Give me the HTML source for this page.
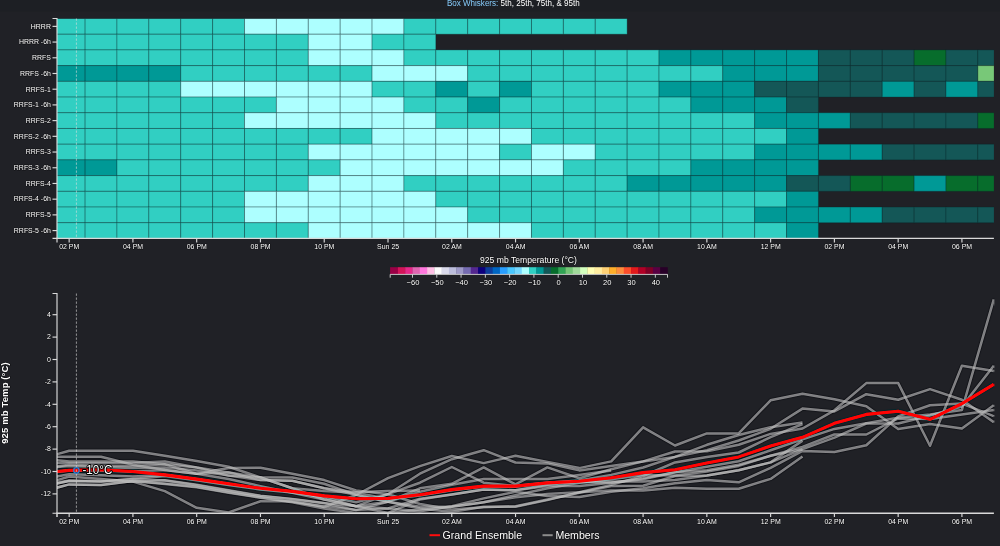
<!DOCTYPE html>
<html lang="en"><head><meta charset="utf-8"><title>925 mb Temperature ensemble</title>
<style>
html,body{margin:0;padding:0;background:#202126;}
body{width:1000px;height:546px;overflow:hidden;position:relative;font-family:"Liberation Sans",Arial,sans-serif;}
svg{position:absolute;left:0;top:0;display:block}
text{font-family:"Liberation Sans",Arial,sans-serif;fill:#fff;}
.tk{font-size:7.05px;paint-order:stroke;stroke:#000;stroke-width:1px;stroke-opacity:.55;stroke-linejoin:round}
.lg{font-size:10.6px;paint-order:stroke;stroke:#000;stroke-width:1.2px;stroke-opacity:.5;stroke-linejoin:round}
.cbt{font-size:7.6px;paint-order:stroke;stroke:#000;stroke-width:1px;stroke-opacity:.5;stroke-linejoin:round}
.m{fill:none;stroke:#b8b8b8;stroke-opacity:.58;stroke-width:2.5;stroke-linejoin:round;stroke-linecap:butt}
</style></head><body>
<svg width="1000" height="546" viewBox="0 0 1000 546">
<defs><clipPath id="ch"><rect x="57.0" y="18.5" width="936.9" height="219.9"/></clipPath>
<clipPath id="cl"><rect x="57.0" y="290" width="937.4" height="223.3"/></clipPath>
<filter id="sh" filterUnits="userSpaceOnUse" x="57" y="289" width="937.5" height="224.3" color-interpolation-filters="sRGB"><feConvolveMatrix order="5" kernelMatrix="0 0 -.012 0 0  0 -.03 -.06 -.03 0  -.012 -.06 1.408 -.06 -.012  0 -.03 -.06 -.03 0  0 0 -.012 0 0" divisor="1" edgeMode="duplicate" preserveAlpha="true"/></filter></defs>
<rect x="0" y="0" width="1000" height="11.3" fill="#1d1f24"/>
<text transform="translate(513.3 5.75) scale(.895 1)" text-anchor="middle" style="font-size:9px"><tspan fill="#86cbfb">Box Whiskers:</tspan> 5th, 25th, 75th, &amp; 95th</text>
<g clip-path="url(#ch)" stroke="#0a2226" stroke-opacity=".31" stroke-width="1">
<rect x="53.21" y="18.50" width="31.89" height="15.71" fill="#31cfc2"/>
<rect x="85.09" y="18.50" width="31.89" height="15.71" fill="#31cfc2"/>
<rect x="116.98" y="18.50" width="31.89" height="15.71" fill="#31cfc2"/>
<rect x="148.86" y="18.50" width="31.89" height="15.71" fill="#31cfc2"/>
<rect x="180.75" y="18.50" width="31.89" height="15.71" fill="#31cfc2"/>
<rect x="212.63" y="18.50" width="31.89" height="15.71" fill="#31cfc2"/>
<rect x="244.52" y="18.50" width="31.89" height="15.71" fill="#adffff"/>
<rect x="276.40" y="18.50" width="31.89" height="15.71" fill="#adffff"/>
<rect x="308.29" y="18.50" width="31.89" height="15.71" fill="#adffff"/>
<rect x="340.17" y="18.50" width="31.89" height="15.71" fill="#adffff"/>
<rect x="372.06" y="18.50" width="31.89" height="15.71" fill="#adffff"/>
<rect x="403.94" y="18.50" width="31.89" height="15.71" fill="#31cfc2"/>
<rect x="435.83" y="18.50" width="31.89" height="15.71" fill="#31cfc2"/>
<rect x="467.71" y="18.50" width="31.89" height="15.71" fill="#31cfc2"/>
<rect x="499.60" y="18.50" width="31.89" height="15.71" fill="#31cfc2"/>
<rect x="531.48" y="18.50" width="31.89" height="15.71" fill="#31cfc2"/>
<rect x="563.37" y="18.50" width="31.89" height="15.71" fill="#31cfc2"/>
<rect x="595.25" y="18.50" width="31.89" height="15.71" fill="#31cfc2"/>
<rect x="53.21" y="34.21" width="31.89" height="15.71" fill="#31cfc2"/>
<rect x="85.09" y="34.21" width="31.89" height="15.71" fill="#31cfc2"/>
<rect x="116.98" y="34.21" width="31.89" height="15.71" fill="#31cfc2"/>
<rect x="148.86" y="34.21" width="31.89" height="15.71" fill="#31cfc2"/>
<rect x="180.75" y="34.21" width="31.89" height="15.71" fill="#31cfc2"/>
<rect x="212.63" y="34.21" width="31.89" height="15.71" fill="#31cfc2"/>
<rect x="244.52" y="34.21" width="31.89" height="15.71" fill="#31cfc2"/>
<rect x="276.40" y="34.21" width="31.89" height="15.71" fill="#31cfc2"/>
<rect x="308.29" y="34.21" width="31.89" height="15.71" fill="#adffff"/>
<rect x="340.17" y="34.21" width="31.89" height="15.71" fill="#adffff"/>
<rect x="372.06" y="34.21" width="31.89" height="15.71" fill="#31cfc2"/>
<rect x="403.94" y="34.21" width="31.89" height="15.71" fill="#31cfc2"/>
<rect x="53.21" y="49.92" width="31.89" height="15.71" fill="#31cfc2"/>
<rect x="85.09" y="49.92" width="31.89" height="15.71" fill="#31cfc2"/>
<rect x="116.98" y="49.92" width="31.89" height="15.71" fill="#31cfc2"/>
<rect x="148.86" y="49.92" width="31.89" height="15.71" fill="#31cfc2"/>
<rect x="180.75" y="49.92" width="31.89" height="15.71" fill="#31cfc2"/>
<rect x="212.63" y="49.92" width="31.89" height="15.71" fill="#31cfc2"/>
<rect x="244.52" y="49.92" width="31.89" height="15.71" fill="#31cfc2"/>
<rect x="276.40" y="49.92" width="31.89" height="15.71" fill="#31cfc2"/>
<rect x="308.29" y="49.92" width="31.89" height="15.71" fill="#adffff"/>
<rect x="340.17" y="49.92" width="31.89" height="15.71" fill="#adffff"/>
<rect x="372.06" y="49.92" width="31.89" height="15.71" fill="#adffff"/>
<rect x="403.94" y="49.92" width="31.89" height="15.71" fill="#31cfc2"/>
<rect x="435.83" y="49.92" width="31.89" height="15.71" fill="#31cfc2"/>
<rect x="467.71" y="49.92" width="31.89" height="15.71" fill="#31cfc2"/>
<rect x="499.60" y="49.92" width="31.89" height="15.71" fill="#31cfc2"/>
<rect x="531.48" y="49.92" width="31.89" height="15.71" fill="#31cfc2"/>
<rect x="563.37" y="49.92" width="31.89" height="15.71" fill="#31cfc2"/>
<rect x="595.25" y="49.92" width="31.89" height="15.71" fill="#31cfc2"/>
<rect x="627.14" y="49.92" width="31.89" height="15.71" fill="#31cfc2"/>
<rect x="659.02" y="49.92" width="31.89" height="15.71" fill="#009996"/>
<rect x="690.91" y="49.92" width="31.89" height="15.71" fill="#009996"/>
<rect x="722.79" y="49.92" width="31.89" height="15.71" fill="#009996"/>
<rect x="754.68" y="49.92" width="31.89" height="15.71" fill="#009996"/>
<rect x="786.56" y="49.92" width="31.89" height="15.71" fill="#009996"/>
<rect x="818.45" y="49.92" width="31.89" height="15.71" fill="#145757"/>
<rect x="850.33" y="49.92" width="31.89" height="15.71" fill="#145757"/>
<rect x="882.22" y="49.92" width="31.89" height="15.71" fill="#145757"/>
<rect x="914.10" y="49.92" width="31.89" height="15.71" fill="#076d2c"/>
<rect x="945.99" y="49.92" width="31.89" height="15.71" fill="#145757"/>
<rect x="977.87" y="49.92" width="31.89" height="15.71" fill="#145757"/>
<rect x="53.21" y="65.63" width="31.89" height="15.71" fill="#009996"/>
<rect x="85.09" y="65.63" width="31.89" height="15.71" fill="#009996"/>
<rect x="116.98" y="65.63" width="31.89" height="15.71" fill="#009996"/>
<rect x="148.86" y="65.63" width="31.89" height="15.71" fill="#009996"/>
<rect x="180.75" y="65.63" width="31.89" height="15.71" fill="#31cfc2"/>
<rect x="212.63" y="65.63" width="31.89" height="15.71" fill="#31cfc2"/>
<rect x="244.52" y="65.63" width="31.89" height="15.71" fill="#31cfc2"/>
<rect x="276.40" y="65.63" width="31.89" height="15.71" fill="#31cfc2"/>
<rect x="308.29" y="65.63" width="31.89" height="15.71" fill="#31cfc2"/>
<rect x="340.17" y="65.63" width="31.89" height="15.71" fill="#31cfc2"/>
<rect x="372.06" y="65.63" width="31.89" height="15.71" fill="#adffff"/>
<rect x="403.94" y="65.63" width="31.89" height="15.71" fill="#adffff"/>
<rect x="435.83" y="65.63" width="31.89" height="15.71" fill="#adffff"/>
<rect x="467.71" y="65.63" width="31.89" height="15.71" fill="#31cfc2"/>
<rect x="499.60" y="65.63" width="31.89" height="15.71" fill="#31cfc2"/>
<rect x="531.48" y="65.63" width="31.89" height="15.71" fill="#31cfc2"/>
<rect x="563.37" y="65.63" width="31.89" height="15.71" fill="#31cfc2"/>
<rect x="595.25" y="65.63" width="31.89" height="15.71" fill="#31cfc2"/>
<rect x="627.14" y="65.63" width="31.89" height="15.71" fill="#31cfc2"/>
<rect x="659.02" y="65.63" width="31.89" height="15.71" fill="#31cfc2"/>
<rect x="690.91" y="65.63" width="31.89" height="15.71" fill="#31cfc2"/>
<rect x="722.79" y="65.63" width="31.89" height="15.71" fill="#009996"/>
<rect x="754.68" y="65.63" width="31.89" height="15.71" fill="#009996"/>
<rect x="786.56" y="65.63" width="31.89" height="15.71" fill="#009996"/>
<rect x="818.45" y="65.63" width="31.89" height="15.71" fill="#145757"/>
<rect x="850.33" y="65.63" width="31.89" height="15.71" fill="#145757"/>
<rect x="882.22" y="65.63" width="31.89" height="15.71" fill="#145757"/>
<rect x="914.10" y="65.63" width="31.89" height="15.71" fill="#145757"/>
<rect x="945.99" y="65.63" width="31.89" height="15.71" fill="#145757"/>
<rect x="977.87" y="65.63" width="31.89" height="15.71" fill="#78c878"/>
<rect x="53.21" y="81.34" width="31.89" height="15.71" fill="#31cfc2"/>
<rect x="85.09" y="81.34" width="31.89" height="15.71" fill="#31cfc2"/>
<rect x="116.98" y="81.34" width="31.89" height="15.71" fill="#31cfc2"/>
<rect x="148.86" y="81.34" width="31.89" height="15.71" fill="#31cfc2"/>
<rect x="180.75" y="81.34" width="31.89" height="15.71" fill="#adffff"/>
<rect x="212.63" y="81.34" width="31.89" height="15.71" fill="#adffff"/>
<rect x="244.52" y="81.34" width="31.89" height="15.71" fill="#adffff"/>
<rect x="276.40" y="81.34" width="31.89" height="15.71" fill="#adffff"/>
<rect x="308.29" y="81.34" width="31.89" height="15.71" fill="#adffff"/>
<rect x="340.17" y="81.34" width="31.89" height="15.71" fill="#adffff"/>
<rect x="372.06" y="81.34" width="31.89" height="15.71" fill="#31cfc2"/>
<rect x="403.94" y="81.34" width="31.89" height="15.71" fill="#31cfc2"/>
<rect x="435.83" y="81.34" width="31.89" height="15.71" fill="#009996"/>
<rect x="467.71" y="81.34" width="31.89" height="15.71" fill="#31cfc2"/>
<rect x="499.60" y="81.34" width="31.89" height="15.71" fill="#009996"/>
<rect x="531.48" y="81.34" width="31.89" height="15.71" fill="#31cfc2"/>
<rect x="563.37" y="81.34" width="31.89" height="15.71" fill="#31cfc2"/>
<rect x="595.25" y="81.34" width="31.89" height="15.71" fill="#31cfc2"/>
<rect x="627.14" y="81.34" width="31.89" height="15.71" fill="#31cfc2"/>
<rect x="659.02" y="81.34" width="31.89" height="15.71" fill="#009996"/>
<rect x="690.91" y="81.34" width="31.89" height="15.71" fill="#009996"/>
<rect x="722.79" y="81.34" width="31.89" height="15.71" fill="#009996"/>
<rect x="754.68" y="81.34" width="31.89" height="15.71" fill="#145757"/>
<rect x="786.56" y="81.34" width="31.89" height="15.71" fill="#145757"/>
<rect x="818.45" y="81.34" width="31.89" height="15.71" fill="#145757"/>
<rect x="850.33" y="81.34" width="31.89" height="15.71" fill="#145757"/>
<rect x="882.22" y="81.34" width="31.89" height="15.71" fill="#009996"/>
<rect x="914.10" y="81.34" width="31.89" height="15.71" fill="#145757"/>
<rect x="945.99" y="81.34" width="31.89" height="15.71" fill="#009996"/>
<rect x="977.87" y="81.34" width="31.89" height="15.71" fill="#145757"/>
<rect x="53.21" y="97.05" width="31.89" height="15.71" fill="#31cfc2"/>
<rect x="85.09" y="97.05" width="31.89" height="15.71" fill="#31cfc2"/>
<rect x="116.98" y="97.05" width="31.89" height="15.71" fill="#31cfc2"/>
<rect x="148.86" y="97.05" width="31.89" height="15.71" fill="#31cfc2"/>
<rect x="180.75" y="97.05" width="31.89" height="15.71" fill="#31cfc2"/>
<rect x="212.63" y="97.05" width="31.89" height="15.71" fill="#31cfc2"/>
<rect x="244.52" y="97.05" width="31.89" height="15.71" fill="#31cfc2"/>
<rect x="276.40" y="97.05" width="31.89" height="15.71" fill="#adffff"/>
<rect x="308.29" y="97.05" width="31.89" height="15.71" fill="#adffff"/>
<rect x="340.17" y="97.05" width="31.89" height="15.71" fill="#adffff"/>
<rect x="372.06" y="97.05" width="31.89" height="15.71" fill="#adffff"/>
<rect x="403.94" y="97.05" width="31.89" height="15.71" fill="#31cfc2"/>
<rect x="435.83" y="97.05" width="31.89" height="15.71" fill="#31cfc2"/>
<rect x="467.71" y="97.05" width="31.89" height="15.71" fill="#009996"/>
<rect x="499.60" y="97.05" width="31.89" height="15.71" fill="#31cfc2"/>
<rect x="531.48" y="97.05" width="31.89" height="15.71" fill="#31cfc2"/>
<rect x="563.37" y="97.05" width="31.89" height="15.71" fill="#31cfc2"/>
<rect x="595.25" y="97.05" width="31.89" height="15.71" fill="#31cfc2"/>
<rect x="627.14" y="97.05" width="31.89" height="15.71" fill="#31cfc2"/>
<rect x="659.02" y="97.05" width="31.89" height="15.71" fill="#31cfc2"/>
<rect x="690.91" y="97.05" width="31.89" height="15.71" fill="#009996"/>
<rect x="722.79" y="97.05" width="31.89" height="15.71" fill="#009996"/>
<rect x="754.68" y="97.05" width="31.89" height="15.71" fill="#009996"/>
<rect x="786.56" y="97.05" width="31.89" height="15.71" fill="#145757"/>
<rect x="53.21" y="112.76" width="31.89" height="15.71" fill="#31cfc2"/>
<rect x="85.09" y="112.76" width="31.89" height="15.71" fill="#31cfc2"/>
<rect x="116.98" y="112.76" width="31.89" height="15.71" fill="#31cfc2"/>
<rect x="148.86" y="112.76" width="31.89" height="15.71" fill="#31cfc2"/>
<rect x="180.75" y="112.76" width="31.89" height="15.71" fill="#31cfc2"/>
<rect x="212.63" y="112.76" width="31.89" height="15.71" fill="#31cfc2"/>
<rect x="244.52" y="112.76" width="31.89" height="15.71" fill="#adffff"/>
<rect x="276.40" y="112.76" width="31.89" height="15.71" fill="#adffff"/>
<rect x="308.29" y="112.76" width="31.89" height="15.71" fill="#adffff"/>
<rect x="340.17" y="112.76" width="31.89" height="15.71" fill="#adffff"/>
<rect x="372.06" y="112.76" width="31.89" height="15.71" fill="#adffff"/>
<rect x="403.94" y="112.76" width="31.89" height="15.71" fill="#adffff"/>
<rect x="435.83" y="112.76" width="31.89" height="15.71" fill="#31cfc2"/>
<rect x="467.71" y="112.76" width="31.89" height="15.71" fill="#31cfc2"/>
<rect x="499.60" y="112.76" width="31.89" height="15.71" fill="#31cfc2"/>
<rect x="531.48" y="112.76" width="31.89" height="15.71" fill="#31cfc2"/>
<rect x="563.37" y="112.76" width="31.89" height="15.71" fill="#31cfc2"/>
<rect x="595.25" y="112.76" width="31.89" height="15.71" fill="#31cfc2"/>
<rect x="627.14" y="112.76" width="31.89" height="15.71" fill="#31cfc2"/>
<rect x="659.02" y="112.76" width="31.89" height="15.71" fill="#31cfc2"/>
<rect x="690.91" y="112.76" width="31.89" height="15.71" fill="#31cfc2"/>
<rect x="722.79" y="112.76" width="31.89" height="15.71" fill="#31cfc2"/>
<rect x="754.68" y="112.76" width="31.89" height="15.71" fill="#009996"/>
<rect x="786.56" y="112.76" width="31.89" height="15.71" fill="#009996"/>
<rect x="818.45" y="112.76" width="31.89" height="15.71" fill="#009996"/>
<rect x="850.33" y="112.76" width="31.89" height="15.71" fill="#145757"/>
<rect x="882.22" y="112.76" width="31.89" height="15.71" fill="#145757"/>
<rect x="914.10" y="112.76" width="31.89" height="15.71" fill="#145757"/>
<rect x="945.99" y="112.76" width="31.89" height="15.71" fill="#145757"/>
<rect x="977.87" y="112.76" width="31.89" height="15.71" fill="#076d2c"/>
<rect x="53.21" y="128.47" width="31.89" height="15.71" fill="#31cfc2"/>
<rect x="85.09" y="128.47" width="31.89" height="15.71" fill="#31cfc2"/>
<rect x="116.98" y="128.47" width="31.89" height="15.71" fill="#31cfc2"/>
<rect x="148.86" y="128.47" width="31.89" height="15.71" fill="#31cfc2"/>
<rect x="180.75" y="128.47" width="31.89" height="15.71" fill="#31cfc2"/>
<rect x="212.63" y="128.47" width="31.89" height="15.71" fill="#31cfc2"/>
<rect x="244.52" y="128.47" width="31.89" height="15.71" fill="#31cfc2"/>
<rect x="276.40" y="128.47" width="31.89" height="15.71" fill="#31cfc2"/>
<rect x="308.29" y="128.47" width="31.89" height="15.71" fill="#31cfc2"/>
<rect x="340.17" y="128.47" width="31.89" height="15.71" fill="#31cfc2"/>
<rect x="372.06" y="128.47" width="31.89" height="15.71" fill="#adffff"/>
<rect x="403.94" y="128.47" width="31.89" height="15.71" fill="#adffff"/>
<rect x="435.83" y="128.47" width="31.89" height="15.71" fill="#adffff"/>
<rect x="467.71" y="128.47" width="31.89" height="15.71" fill="#adffff"/>
<rect x="499.60" y="128.47" width="31.89" height="15.71" fill="#adffff"/>
<rect x="531.48" y="128.47" width="31.89" height="15.71" fill="#31cfc2"/>
<rect x="563.37" y="128.47" width="31.89" height="15.71" fill="#31cfc2"/>
<rect x="595.25" y="128.47" width="31.89" height="15.71" fill="#31cfc2"/>
<rect x="627.14" y="128.47" width="31.89" height="15.71" fill="#31cfc2"/>
<rect x="659.02" y="128.47" width="31.89" height="15.71" fill="#31cfc2"/>
<rect x="690.91" y="128.47" width="31.89" height="15.71" fill="#31cfc2"/>
<rect x="722.79" y="128.47" width="31.89" height="15.71" fill="#31cfc2"/>
<rect x="754.68" y="128.47" width="31.89" height="15.71" fill="#31cfc2"/>
<rect x="786.56" y="128.47" width="31.89" height="15.71" fill="#009996"/>
<rect x="53.21" y="144.18" width="31.89" height="15.71" fill="#31cfc2"/>
<rect x="85.09" y="144.18" width="31.89" height="15.71" fill="#31cfc2"/>
<rect x="116.98" y="144.18" width="31.89" height="15.71" fill="#31cfc2"/>
<rect x="148.86" y="144.18" width="31.89" height="15.71" fill="#31cfc2"/>
<rect x="180.75" y="144.18" width="31.89" height="15.71" fill="#31cfc2"/>
<rect x="212.63" y="144.18" width="31.89" height="15.71" fill="#31cfc2"/>
<rect x="244.52" y="144.18" width="31.89" height="15.71" fill="#31cfc2"/>
<rect x="276.40" y="144.18" width="31.89" height="15.71" fill="#31cfc2"/>
<rect x="308.29" y="144.18" width="31.89" height="15.71" fill="#adffff"/>
<rect x="340.17" y="144.18" width="31.89" height="15.71" fill="#adffff"/>
<rect x="372.06" y="144.18" width="31.89" height="15.71" fill="#adffff"/>
<rect x="403.94" y="144.18" width="31.89" height="15.71" fill="#adffff"/>
<rect x="435.83" y="144.18" width="31.89" height="15.71" fill="#adffff"/>
<rect x="467.71" y="144.18" width="31.89" height="15.71" fill="#adffff"/>
<rect x="499.60" y="144.18" width="31.89" height="15.71" fill="#31cfc2"/>
<rect x="531.48" y="144.18" width="31.89" height="15.71" fill="#adffff"/>
<rect x="563.37" y="144.18" width="31.89" height="15.71" fill="#adffff"/>
<rect x="595.25" y="144.18" width="31.89" height="15.71" fill="#31cfc2"/>
<rect x="627.14" y="144.18" width="31.89" height="15.71" fill="#31cfc2"/>
<rect x="659.02" y="144.18" width="31.89" height="15.71" fill="#31cfc2"/>
<rect x="690.91" y="144.18" width="31.89" height="15.71" fill="#31cfc2"/>
<rect x="722.79" y="144.18" width="31.89" height="15.71" fill="#31cfc2"/>
<rect x="754.68" y="144.18" width="31.89" height="15.71" fill="#009996"/>
<rect x="786.56" y="144.18" width="31.89" height="15.71" fill="#009996"/>
<rect x="818.45" y="144.18" width="31.89" height="15.71" fill="#009996"/>
<rect x="850.33" y="144.18" width="31.89" height="15.71" fill="#009996"/>
<rect x="882.22" y="144.18" width="31.89" height="15.71" fill="#145757"/>
<rect x="914.10" y="144.18" width="31.89" height="15.71" fill="#145757"/>
<rect x="945.99" y="144.18" width="31.89" height="15.71" fill="#145757"/>
<rect x="977.87" y="144.18" width="31.89" height="15.71" fill="#145757"/>
<rect x="53.21" y="159.89" width="31.89" height="15.71" fill="#009996"/>
<rect x="85.09" y="159.89" width="31.89" height="15.71" fill="#009996"/>
<rect x="116.98" y="159.89" width="31.89" height="15.71" fill="#31cfc2"/>
<rect x="148.86" y="159.89" width="31.89" height="15.71" fill="#31cfc2"/>
<rect x="180.75" y="159.89" width="31.89" height="15.71" fill="#31cfc2"/>
<rect x="212.63" y="159.89" width="31.89" height="15.71" fill="#31cfc2"/>
<rect x="244.52" y="159.89" width="31.89" height="15.71" fill="#31cfc2"/>
<rect x="276.40" y="159.89" width="31.89" height="15.71" fill="#31cfc2"/>
<rect x="308.29" y="159.89" width="31.89" height="15.71" fill="#31cfc2"/>
<rect x="340.17" y="159.89" width="31.89" height="15.71" fill="#adffff"/>
<rect x="372.06" y="159.89" width="31.89" height="15.71" fill="#adffff"/>
<rect x="403.94" y="159.89" width="31.89" height="15.71" fill="#adffff"/>
<rect x="435.83" y="159.89" width="31.89" height="15.71" fill="#adffff"/>
<rect x="467.71" y="159.89" width="31.89" height="15.71" fill="#adffff"/>
<rect x="499.60" y="159.89" width="31.89" height="15.71" fill="#adffff"/>
<rect x="531.48" y="159.89" width="31.89" height="15.71" fill="#adffff"/>
<rect x="563.37" y="159.89" width="31.89" height="15.71" fill="#31cfc2"/>
<rect x="595.25" y="159.89" width="31.89" height="15.71" fill="#31cfc2"/>
<rect x="627.14" y="159.89" width="31.89" height="15.71" fill="#31cfc2"/>
<rect x="659.02" y="159.89" width="31.89" height="15.71" fill="#31cfc2"/>
<rect x="690.91" y="159.89" width="31.89" height="15.71" fill="#009996"/>
<rect x="722.79" y="159.89" width="31.89" height="15.71" fill="#009996"/>
<rect x="754.68" y="159.89" width="31.89" height="15.71" fill="#009996"/>
<rect x="786.56" y="159.89" width="31.89" height="15.71" fill="#009996"/>
<rect x="53.21" y="175.60" width="31.89" height="15.71" fill="#31cfc2"/>
<rect x="85.09" y="175.60" width="31.89" height="15.71" fill="#31cfc2"/>
<rect x="116.98" y="175.60" width="31.89" height="15.71" fill="#31cfc2"/>
<rect x="148.86" y="175.60" width="31.89" height="15.71" fill="#31cfc2"/>
<rect x="180.75" y="175.60" width="31.89" height="15.71" fill="#31cfc2"/>
<rect x="212.63" y="175.60" width="31.89" height="15.71" fill="#31cfc2"/>
<rect x="244.52" y="175.60" width="31.89" height="15.71" fill="#31cfc2"/>
<rect x="276.40" y="175.60" width="31.89" height="15.71" fill="#31cfc2"/>
<rect x="308.29" y="175.60" width="31.89" height="15.71" fill="#adffff"/>
<rect x="340.17" y="175.60" width="31.89" height="15.71" fill="#adffff"/>
<rect x="372.06" y="175.60" width="31.89" height="15.71" fill="#adffff"/>
<rect x="403.94" y="175.60" width="31.89" height="15.71" fill="#31cfc2"/>
<rect x="435.83" y="175.60" width="31.89" height="15.71" fill="#31cfc2"/>
<rect x="467.71" y="175.60" width="31.89" height="15.71" fill="#31cfc2"/>
<rect x="499.60" y="175.60" width="31.89" height="15.71" fill="#31cfc2"/>
<rect x="531.48" y="175.60" width="31.89" height="15.71" fill="#31cfc2"/>
<rect x="563.37" y="175.60" width="31.89" height="15.71" fill="#31cfc2"/>
<rect x="595.25" y="175.60" width="31.89" height="15.71" fill="#31cfc2"/>
<rect x="627.14" y="175.60" width="31.89" height="15.71" fill="#009996"/>
<rect x="659.02" y="175.60" width="31.89" height="15.71" fill="#009996"/>
<rect x="690.91" y="175.60" width="31.89" height="15.71" fill="#009996"/>
<rect x="722.79" y="175.60" width="31.89" height="15.71" fill="#009996"/>
<rect x="754.68" y="175.60" width="31.89" height="15.71" fill="#009996"/>
<rect x="786.56" y="175.60" width="31.89" height="15.71" fill="#145757"/>
<rect x="818.45" y="175.60" width="31.89" height="15.71" fill="#145757"/>
<rect x="850.33" y="175.60" width="31.89" height="15.71" fill="#076d2c"/>
<rect x="882.22" y="175.60" width="31.89" height="15.71" fill="#076d2c"/>
<rect x="914.10" y="175.60" width="31.89" height="15.71" fill="#009996"/>
<rect x="945.99" y="175.60" width="31.89" height="15.71" fill="#076d2c"/>
<rect x="977.87" y="175.60" width="31.89" height="15.71" fill="#076d2c"/>
<rect x="53.21" y="191.31" width="31.89" height="15.71" fill="#31cfc2"/>
<rect x="85.09" y="191.31" width="31.89" height="15.71" fill="#31cfc2"/>
<rect x="116.98" y="191.31" width="31.89" height="15.71" fill="#31cfc2"/>
<rect x="148.86" y="191.31" width="31.89" height="15.71" fill="#31cfc2"/>
<rect x="180.75" y="191.31" width="31.89" height="15.71" fill="#31cfc2"/>
<rect x="212.63" y="191.31" width="31.89" height="15.71" fill="#31cfc2"/>
<rect x="244.52" y="191.31" width="31.89" height="15.71" fill="#adffff"/>
<rect x="276.40" y="191.31" width="31.89" height="15.71" fill="#adffff"/>
<rect x="308.29" y="191.31" width="31.89" height="15.71" fill="#adffff"/>
<rect x="340.17" y="191.31" width="31.89" height="15.71" fill="#adffff"/>
<rect x="372.06" y="191.31" width="31.89" height="15.71" fill="#adffff"/>
<rect x="403.94" y="191.31" width="31.89" height="15.71" fill="#adffff"/>
<rect x="435.83" y="191.31" width="31.89" height="15.71" fill="#31cfc2"/>
<rect x="467.71" y="191.31" width="31.89" height="15.71" fill="#31cfc2"/>
<rect x="499.60" y="191.31" width="31.89" height="15.71" fill="#31cfc2"/>
<rect x="531.48" y="191.31" width="31.89" height="15.71" fill="#31cfc2"/>
<rect x="563.37" y="191.31" width="31.89" height="15.71" fill="#31cfc2"/>
<rect x="595.25" y="191.31" width="31.89" height="15.71" fill="#31cfc2"/>
<rect x="627.14" y="191.31" width="31.89" height="15.71" fill="#31cfc2"/>
<rect x="659.02" y="191.31" width="31.89" height="15.71" fill="#31cfc2"/>
<rect x="690.91" y="191.31" width="31.89" height="15.71" fill="#31cfc2"/>
<rect x="722.79" y="191.31" width="31.89" height="15.71" fill="#31cfc2"/>
<rect x="754.68" y="191.31" width="31.89" height="15.71" fill="#31cfc2"/>
<rect x="786.56" y="191.31" width="31.89" height="15.71" fill="#009996"/>
<rect x="53.21" y="207.02" width="31.89" height="15.71" fill="#31cfc2"/>
<rect x="85.09" y="207.02" width="31.89" height="15.71" fill="#31cfc2"/>
<rect x="116.98" y="207.02" width="31.89" height="15.71" fill="#31cfc2"/>
<rect x="148.86" y="207.02" width="31.89" height="15.71" fill="#31cfc2"/>
<rect x="180.75" y="207.02" width="31.89" height="15.71" fill="#31cfc2"/>
<rect x="212.63" y="207.02" width="31.89" height="15.71" fill="#31cfc2"/>
<rect x="244.52" y="207.02" width="31.89" height="15.71" fill="#adffff"/>
<rect x="276.40" y="207.02" width="31.89" height="15.71" fill="#adffff"/>
<rect x="308.29" y="207.02" width="31.89" height="15.71" fill="#adffff"/>
<rect x="340.17" y="207.02" width="31.89" height="15.71" fill="#adffff"/>
<rect x="372.06" y="207.02" width="31.89" height="15.71" fill="#adffff"/>
<rect x="403.94" y="207.02" width="31.89" height="15.71" fill="#adffff"/>
<rect x="435.83" y="207.02" width="31.89" height="15.71" fill="#adffff"/>
<rect x="467.71" y="207.02" width="31.89" height="15.71" fill="#31cfc2"/>
<rect x="499.60" y="207.02" width="31.89" height="15.71" fill="#31cfc2"/>
<rect x="531.48" y="207.02" width="31.89" height="15.71" fill="#31cfc2"/>
<rect x="563.37" y="207.02" width="31.89" height="15.71" fill="#31cfc2"/>
<rect x="595.25" y="207.02" width="31.89" height="15.71" fill="#31cfc2"/>
<rect x="627.14" y="207.02" width="31.89" height="15.71" fill="#31cfc2"/>
<rect x="659.02" y="207.02" width="31.89" height="15.71" fill="#31cfc2"/>
<rect x="690.91" y="207.02" width="31.89" height="15.71" fill="#31cfc2"/>
<rect x="722.79" y="207.02" width="31.89" height="15.71" fill="#31cfc2"/>
<rect x="754.68" y="207.02" width="31.89" height="15.71" fill="#009996"/>
<rect x="786.56" y="207.02" width="31.89" height="15.71" fill="#009996"/>
<rect x="818.45" y="207.02" width="31.89" height="15.71" fill="#009996"/>
<rect x="850.33" y="207.02" width="31.89" height="15.71" fill="#009996"/>
<rect x="882.22" y="207.02" width="31.89" height="15.71" fill="#145757"/>
<rect x="914.10" y="207.02" width="31.89" height="15.71" fill="#145757"/>
<rect x="945.99" y="207.02" width="31.89" height="15.71" fill="#145757"/>
<rect x="977.87" y="207.02" width="31.89" height="15.71" fill="#145757"/>
<rect x="53.21" y="222.73" width="31.89" height="15.71" fill="#31cfc2"/>
<rect x="85.09" y="222.73" width="31.89" height="15.71" fill="#31cfc2"/>
<rect x="116.98" y="222.73" width="31.89" height="15.71" fill="#31cfc2"/>
<rect x="148.86" y="222.73" width="31.89" height="15.71" fill="#31cfc2"/>
<rect x="180.75" y="222.73" width="31.89" height="15.71" fill="#31cfc2"/>
<rect x="212.63" y="222.73" width="31.89" height="15.71" fill="#31cfc2"/>
<rect x="244.52" y="222.73" width="31.89" height="15.71" fill="#31cfc2"/>
<rect x="276.40" y="222.73" width="31.89" height="15.71" fill="#31cfc2"/>
<rect x="308.29" y="222.73" width="31.89" height="15.71" fill="#adffff"/>
<rect x="340.17" y="222.73" width="31.89" height="15.71" fill="#adffff"/>
<rect x="372.06" y="222.73" width="31.89" height="15.71" fill="#adffff"/>
<rect x="403.94" y="222.73" width="31.89" height="15.71" fill="#adffff"/>
<rect x="435.83" y="222.73" width="31.89" height="15.71" fill="#adffff"/>
<rect x="467.71" y="222.73" width="31.89" height="15.71" fill="#adffff"/>
<rect x="499.60" y="222.73" width="31.89" height="15.71" fill="#adffff"/>
<rect x="531.48" y="222.73" width="31.89" height="15.71" fill="#31cfc2"/>
<rect x="563.37" y="222.73" width="31.89" height="15.71" fill="#31cfc2"/>
<rect x="595.25" y="222.73" width="31.89" height="15.71" fill="#31cfc2"/>
<rect x="627.14" y="222.73" width="31.89" height="15.71" fill="#31cfc2"/>
<rect x="659.02" y="222.73" width="31.89" height="15.71" fill="#31cfc2"/>
<rect x="690.91" y="222.73" width="31.89" height="15.71" fill="#31cfc2"/>
<rect x="722.79" y="222.73" width="31.89" height="15.71" fill="#31cfc2"/>
<rect x="754.68" y="222.73" width="31.89" height="15.71" fill="#31cfc2"/>
<rect x="786.56" y="222.73" width="31.89" height="15.71" fill="#009996"/>
</g>
<line x1="76.4" y1="18.5" x2="76.4" y2="238.4" stroke="#e0e0e0" stroke-opacity=".8" stroke-width=".75" stroke-dasharray="2.3 1.7"/>
<g stroke="#dadada" stroke-width="1.15" fill="none">
<path d="M52.5 18.5H57.0V238.4H52.5"/>
<path d="M57.0 242.4V238.4H993.9"/>
<path d="M52.5 26.36H57.0"/>
<path d="M52.5 42.06H57.0"/>
<path d="M52.5 57.78H57.0"/>
<path d="M52.5 73.48H57.0"/>
<path d="M52.5 89.20H57.0"/>
<path d="M52.5 104.91H57.0"/>
<path d="M52.5 120.62H57.0"/>
<path d="M52.5 136.32H57.0"/>
<path d="M52.5 152.03H57.0"/>
<path d="M52.5 167.75H57.0"/>
<path d="M52.5 183.46H57.0"/>
<path d="M52.5 199.17H57.0"/>
<path d="M52.5 214.88H57.0"/>
<path d="M52.5 230.59H57.0"/>
<path d="M69.15 238.4v4"/>
<path d="M132.92 238.4v4"/>
<path d="M196.69 238.4v4"/>
<path d="M260.46 238.4v4"/>
<path d="M324.23 238.4v4"/>
<path d="M388.00 238.4v4"/>
<path d="M451.77 238.4v4"/>
<path d="M515.54 238.4v4"/>
<path d="M579.31 238.4v4"/>
<path d="M643.08 238.4v4"/>
<path d="M706.85 238.4v4"/>
<path d="M770.62 238.4v4"/>
<path d="M834.39 238.4v4"/>
<path d="M898.16 238.4v4"/>
<path d="M961.93 238.4v4"/>
</g>
<text class="tk" transform="translate(50.90 28.66) scale(0.920 1)" text-anchor="end" style="font-size:7.55px">HRRR</text>
<text class="tk" transform="translate(50.90 44.36) scale(0.920 1)" text-anchor="end" style="font-size:7.55px">HRRR -6h</text>
<text class="tk" transform="translate(50.90 60.08) scale(0.920 1)" text-anchor="end" style="font-size:7.55px">RRFS</text>
<text class="tk" transform="translate(50.90 75.78) scale(0.920 1)" text-anchor="end" style="font-size:7.55px">RRFS -6h</text>
<text class="tk" transform="translate(50.90 91.50) scale(0.920 1)" text-anchor="end" style="font-size:7.55px">RRFS-1</text>
<text class="tk" transform="translate(50.90 107.20) scale(0.920 1)" text-anchor="end" style="font-size:7.55px">RRFS-1 -6h</text>
<text class="tk" transform="translate(50.90 122.92) scale(0.920 1)" text-anchor="end" style="font-size:7.55px">RRFS-2</text>
<text class="tk" transform="translate(50.90 138.62) scale(0.920 1)" text-anchor="end" style="font-size:7.55px">RRFS-2 -6h</text>
<text class="tk" transform="translate(50.90 154.34) scale(0.920 1)" text-anchor="end" style="font-size:7.55px">RRFS-3</text>
<text class="tk" transform="translate(50.90 170.05) scale(0.920 1)" text-anchor="end" style="font-size:7.55px">RRFS-3 -6h</text>
<text class="tk" transform="translate(50.90 185.76) scale(0.920 1)" text-anchor="end" style="font-size:7.55px">RRFS-4</text>
<text class="tk" transform="translate(50.90 201.47) scale(0.920 1)" text-anchor="end" style="font-size:7.55px">RRFS-4 -6h</text>
<text class="tk" transform="translate(50.90 217.18) scale(0.920 1)" text-anchor="end" style="font-size:7.55px">RRFS-5</text>
<text class="tk" transform="translate(50.90 232.89) scale(0.920 1)" text-anchor="end" style="font-size:7.55px">RRFS-5 -6h</text>
<text class="tk" transform="translate(69.25 249.14) scale(0.920 1)" text-anchor="middle" style="font-size:7.55px">02 PM</text>
<text class="tk" transform="translate(133.02 249.14) scale(0.920 1)" text-anchor="middle" style="font-size:7.55px">04 PM</text>
<text class="tk" transform="translate(196.79 249.14) scale(0.920 1)" text-anchor="middle" style="font-size:7.55px">06 PM</text>
<text class="tk" transform="translate(260.56 249.14) scale(0.920 1)" text-anchor="middle" style="font-size:7.55px">08 PM</text>
<text class="tk" transform="translate(324.33 249.14) scale(0.920 1)" text-anchor="middle" style="font-size:7.55px">10 PM</text>
<text class="tk" transform="translate(388.10 249.14) scale(0.920 1)" text-anchor="middle" style="font-size:7.55px">Sun 25</text>
<text class="tk" transform="translate(451.87 249.14) scale(0.920 1)" text-anchor="middle" style="font-size:7.55px">02 AM</text>
<text class="tk" transform="translate(515.64 249.14) scale(0.920 1)" text-anchor="middle" style="font-size:7.55px">04 AM</text>
<text class="tk" transform="translate(579.41 249.14) scale(0.920 1)" text-anchor="middle" style="font-size:7.55px">06 AM</text>
<text class="tk" transform="translate(643.18 249.14) scale(0.920 1)" text-anchor="middle" style="font-size:7.55px">08 AM</text>
<text class="tk" transform="translate(706.95 249.14) scale(0.920 1)" text-anchor="middle" style="font-size:7.55px">10 AM</text>
<text class="tk" transform="translate(770.72 249.14) scale(0.920 1)" text-anchor="middle" style="font-size:7.55px">12 PM</text>
<text class="tk" transform="translate(834.49 249.14) scale(0.920 1)" text-anchor="middle" style="font-size:7.55px">02 PM</text>
<text class="tk" transform="translate(898.26 249.14) scale(0.920 1)" text-anchor="middle" style="font-size:7.55px">04 PM</text>
<text class="tk" transform="translate(962.03 249.14) scale(0.920 1)" text-anchor="middle" style="font-size:7.55px">06 PM</text>
<text class="cbt" x="528.5" y="263.2" text-anchor="middle" style="font-size:8.6px">925 mb Temperature (°C)</text>
<rect x="390.10" y="267.2" width="8.13" height="6.9" fill="#9b0046"/>
<rect x="397.94" y="267.2" width="7.58" height="6.9" fill="#d4145a"/>
<rect x="405.22" y="267.2" width="7.58" height="6.9" fill="#e7298a"/>
<rect x="412.50" y="267.2" width="7.58" height="6.9" fill="#df65b0"/>
<rect x="419.79" y="267.2" width="7.58" height="6.9" fill="#ff77dd"/>
<rect x="427.07" y="267.2" width="7.58" height="6.9" fill="#ffc0e6"/>
<rect x="434.36" y="267.2" width="7.58" height="6.9" fill="#fcfcfc"/>
<rect x="441.64" y="267.2" width="7.58" height="6.9" fill="#dadaeb"/>
<rect x="448.93" y="267.2" width="7.58" height="6.9" fill="#bcbddc"/>
<rect x="456.21" y="267.2" width="7.58" height="6.9" fill="#9e9ac8"/>
<rect x="463.50" y="267.2" width="7.58" height="6.9" fill="#756bb1"/>
<rect x="470.78" y="267.2" width="7.58" height="6.9" fill="#54278f"/>
<rect x="478.07" y="267.2" width="7.58" height="6.9" fill="#0d007d"/>
<rect x="485.35" y="267.2" width="7.58" height="6.9" fill="#0d3d9c"/>
<rect x="492.64" y="267.2" width="7.58" height="6.9" fill="#0066c2"/>
<rect x="499.92" y="267.2" width="7.58" height="6.9" fill="#299eff"/>
<rect x="507.21" y="267.2" width="7.58" height="6.9" fill="#4ac7ff"/>
<rect x="514.50" y="267.2" width="7.58" height="6.9" fill="#73d7ff"/>
<rect x="521.78" y="267.2" width="7.58" height="6.9" fill="#adffff"/>
<rect x="529.06" y="267.2" width="7.58" height="6.9" fill="#30cfc2"/>
<rect x="536.35" y="267.2" width="7.58" height="6.9" fill="#009996"/>
<rect x="543.63" y="267.2" width="7.58" height="6.9" fill="#125757"/>
<rect x="550.92" y="267.2" width="7.58" height="6.9" fill="#066d2c"/>
<rect x="558.20" y="267.2" width="7.58" height="6.9" fill="#31a354"/>
<rect x="565.49" y="267.2" width="7.58" height="6.9" fill="#74c476"/>
<rect x="572.77" y="267.2" width="7.58" height="6.9" fill="#a1d99b"/>
<rect x="580.06" y="267.2" width="7.58" height="6.9" fill="#d3ffbe"/>
<rect x="587.35" y="267.2" width="7.58" height="6.9" fill="#ffffb3"/>
<rect x="594.63" y="267.2" width="7.58" height="6.9" fill="#ffeda0"/>
<rect x="601.91" y="267.2" width="7.58" height="6.9" fill="#fed176"/>
<rect x="609.20" y="267.2" width="7.58" height="6.9" fill="#feae2a"/>
<rect x="616.49" y="267.2" width="7.58" height="6.9" fill="#fd8d3c"/>
<rect x="623.77" y="267.2" width="7.58" height="6.9" fill="#fc4e2a"/>
<rect x="631.05" y="267.2" width="7.58" height="6.9" fill="#e31a1c"/>
<rect x="638.34" y="267.2" width="7.58" height="6.9" fill="#b10026"/>
<rect x="645.62" y="267.2" width="7.58" height="6.9" fill="#800026"/>
<rect x="652.91" y="267.2" width="7.58" height="6.9" fill="#590042"/>
<rect x="660.19" y="267.2" width="7.58" height="6.9" fill="#280028"/>
<g stroke="#dadada" stroke-width=".9" fill="none">
<path d="M390.2 277.7V274.4H667.5V277.7"/>
<path d="M412.50 274.4v3.3"/>
<path d="M436.79 274.4v3.3"/>
<path d="M461.07 274.4v3.3"/>
<path d="M485.35 274.4v3.3"/>
<path d="M509.64 274.4v3.3"/>
<path d="M533.92 274.4v3.3"/>
<path d="M558.20 274.4v3.3"/>
<path d="M582.49 274.4v3.3"/>
<path d="M606.77 274.4v3.3"/>
<path d="M631.05 274.4v3.3"/>
<path d="M655.34 274.4v3.3"/>
</g>
<text class="tk" transform="translate(413.00 285.30) scale(1.000 1)" text-anchor="middle" style="font-size:7.55px">−60</text>
<text class="tk" transform="translate(437.29 285.30) scale(1.000 1)" text-anchor="middle" style="font-size:7.55px">−50</text>
<text class="tk" transform="translate(461.57 285.30) scale(1.000 1)" text-anchor="middle" style="font-size:7.55px">−40</text>
<text class="tk" transform="translate(485.85 285.30) scale(1.000 1)" text-anchor="middle" style="font-size:7.55px">−30</text>
<text class="tk" transform="translate(510.14 285.30) scale(1.000 1)" text-anchor="middle" style="font-size:7.55px">−20</text>
<text class="tk" transform="translate(534.42 285.30) scale(1.000 1)" text-anchor="middle" style="font-size:7.55px">−10</text>
<text class="tk" transform="translate(558.70 285.30) scale(1.000 1)" text-anchor="middle" style="font-size:7.55px">0</text>
<text class="tk" transform="translate(582.99 285.30) scale(1.000 1)" text-anchor="middle" style="font-size:7.55px">10</text>
<text class="tk" transform="translate(607.27 285.30) scale(1.000 1)" text-anchor="middle" style="font-size:7.55px">20</text>
<text class="tk" transform="translate(631.55 285.30) scale(1.000 1)" text-anchor="middle" style="font-size:7.55px">30</text>
<text class="tk" transform="translate(655.84 285.30) scale(1.000 1)" text-anchor="middle" style="font-size:7.55px">40</text>
<g clip-path="url(#cl)"><g filter="url(#sh)"><rect x="50" y="285" width="950" height="232" fill="#202126"/>
<path class="m" d="M37.3 487.4L69.2 481.1L101.0 481.6L132.9 478.9L164.8 480.6L196.7 485.2L228.6 490.7L260.5 496.1L292.3 499.3L324.2 503.2L356.1 510.1L388.0 501.7L419.9 491.7L451.8 484.7L483.7 479.1L515.5 479.1L547.4 479.1L579.3 474.9L611.2 470.4"/>
<path class="m" d="M37.3 462.9L69.2 462.9L101.0 462.9L132.9 463.1L164.8 461.6L196.7 467.5L228.6 472.4L260.5 480.1L292.3 480.8L324.2 488.3L356.1 492.3L388.0 491.1L419.9 490.5"/>
<path class="m" d="M37.3 469.3L69.2 464.8L101.0 465.9L132.9 465.9L164.8 464.2L196.7 467.5L228.6 475.6L260.5 477.5L292.3 488.3L324.2 499.5L356.1 506.2L388.0 494.2L419.9 482.7L451.8 467.0L483.7 482.7L515.5 486.1L547.4 482.7L579.3 480.5L611.2 474.9L643.1 467.5L675.0 456.9L706.9 450.3L738.7 440.5L770.6 428.8L802.5 408.6L834.4 411.4L866.3 394.2L898.2 399.8L930.0 389.1L961.9 399.8L993.8 422.2"/>
<path class="m" d="M37.3 460.0L69.2 450.7L101.0 450.7L132.9 450.7L164.8 455.8L196.7 461.0L228.6 466.8L260.5 477.5L292.3 488.3L324.2 491.1L356.1 492.8L388.0 499.1L419.9 495.4L451.8 490.3L483.7 486.7L515.5 486.7L547.4 483.6L579.3 481.9L611.2 482.7L643.1 479.3L675.0 472.3L706.9 466.8L738.7 461.3L770.6 450.3L802.5 439.4L834.4 428.9L866.3 423.3L898.2 417.7L930.0 414.6L961.9 409.9L993.8 299.4"/>
<path class="m" d="M37.3 486.1L69.2 480.5L101.0 481.0L132.9 481.6L164.8 491.1L196.7 507.8L228.6 512.4L260.5 501.3L292.3 501.3L324.2 507.0L356.1 495.0L388.0 478.2L419.9 466.1L451.8 456.0L483.7 463.1L515.5 455.7L547.4 461.9L579.3 468.1L611.2 461.4L643.1 427.4L675.0 445.5L706.9 433.4L738.7 433.4L770.6 400.3L802.5 393.8L834.4 399.3L866.3 406.3L898.2 428.9L930.0 423.9L961.9 428.6L993.8 405.2"/>
<path class="m" d="M37.3 480.2L69.2 474.3L101.0 475.2L132.9 476.5L164.8 475.1L196.7 479.3L228.6 484.0L260.5 488.5L292.3 491.7L324.2 496.1L356.1 502.3L388.0 494.2L419.9 473.7L451.8 459.2L483.7 450.2L515.5 462.5L547.4 463.4L579.3 470.4L611.2 465.9L643.1 461.4L675.0 456.9L706.9 444.8L738.7 435.0L770.6 427.3L802.5 422.4"/>
<path class="m" d="M37.3 487.4L69.2 481.1L101.0 481.6L132.9 478.9L164.8 476.0L196.7 480.2L228.6 484.9L260.5 489.4L292.3 492.6L324.2 497.0L356.1 506.2L388.0 512.9L419.9 499.5L451.8 494.5L483.7 489.6L515.5 490.3L547.4 486.1L579.3 486.1L611.2 482.7L643.1 478.2L675.0 472.3L706.9 470.2L738.7 464.7L770.6 455.8L802.5 449.1L834.4 437.6L866.3 423.5L898.2 423.5L930.0 415.5L961.9 406.5L993.8 365.7"/>
<path class="m" d="M37.3 458.6L69.2 461.4L101.0 461.4L132.9 461.4L164.8 464.2L196.7 473.7L228.6 468.1L260.5 467.7L292.3 473.7L324.2 480.1L356.1 490.5L388.0 494.2L419.9 504.0L451.8 509.6L483.7 507.3L515.5 506.2L547.4 499.5L579.3 492.8L611.2 486.1L643.1 485.7L675.0 476.0L706.9 475.6L738.7 470.2L770.6 462.4L802.5 440.6"/>
<path class="m" d="M37.3 486.4L69.2 476.5L101.0 478.9L132.9 481.6L164.8 480.2L196.7 484.8L228.6 490.3L260.5 495.8L292.3 498.9L324.2 502.9L356.1 506.2L388.0 508.5L419.9 511.3L451.8 506.2L483.7 498.4L515.5 491.7L547.4 496.1L579.3 496.9L611.2 491.7L643.1 488.3L675.0 483.3L706.9 480.0L738.7 482.3L770.6 467.9L802.5 450.9L834.4 452.0L866.3 445.3L898.2 416.4L930.0 405.2L961.9 403.5L993.8 416.2"/>
<path class="m" d="M37.3 456.7L69.2 456.7L101.0 456.7L132.9 464.8L164.8 469.9L196.7 473.7L228.6 472.4L260.5 477.5L292.3 477.5L324.2 483.8L356.1 494.9L388.0 501.7L419.9 506.7L451.8 506.7L483.7 502.2L515.5 497.3L547.4 493.9L579.3 492.2L611.2 484.9L643.1 476.0L675.0 462.4L706.9 456.9L738.7 452.5L770.6 437.1L802.5 424.0"/>
<path class="m" d="M37.3 473.7L69.2 470.4L101.0 470.4L132.9 471.5L164.8 469.9L196.7 473.7L228.6 479.0L260.5 486.1L292.3 492.8L324.2 499.5L356.1 506.2L388.0 501.7L419.9 488.3L451.8 483.8L483.7 467.4L515.5 484.4L547.4 467.4L579.3 478.2L611.2 469.3L643.1 461.4L675.0 451.5L706.9 451.3L738.7 444.8L770.6 433.9L802.5 428.5L834.4 410.3L866.3 383.1L898.2 383.1L930.0 445.7L961.9 365.7L993.8 371.0"/>
<path class="m" d="M37.3 492.8L69.2 484.4L101.0 484.9L132.9 481.1L164.8 483.5L196.7 486.8L228.6 492.3L260.5 497.3L292.3 501.7L324.2 506.2L356.1 510.1L388.0 508.5L419.9 498.8L451.8 494.5L483.7 489.6L515.5 490.3L547.4 484.7L579.3 481.6L611.2 481.6L643.1 481.6L675.0 480.0L706.9 475.6L738.7 470.2L770.6 462.4L802.5 449.1"/>
<path class="m" d="M37.3 492.8L69.2 484.4L101.0 484.9L132.9 481.1L164.8 483.9L196.7 487.3L228.6 492.8L260.5 497.7L292.3 502.2L324.2 508.5L356.1 512.9L388.0 512.9L419.9 509.6L451.8 506.7L483.7 502.2L515.5 495.2L547.4 488.3L579.3 482.7L611.2 479.3L643.1 474.9L675.0 475.6L706.9 471.5L738.7 465.9L770.6 455.8L802.5 446.9L834.4 434.5L866.3 434.5L898.2 418.4L930.0 418.9L961.9 414.4L993.8 409.9"/>
<path class="m" d="M37.3 468.7L69.2 465.9L101.0 467.0L132.9 468.1L164.8 467.5L196.7 470.6L228.6 475.6L260.5 480.1L292.3 480.8L324.2 488.3L356.1 494.9L388.0 501.7L419.9 508.5L451.8 511.8L483.7 506.7L515.5 506.7L547.4 500.1L579.3 492.2L611.2 490.5L643.1 490.5L675.0 487.7L706.9 488.7L738.7 488.7L770.6 478.9L802.5 456.4"/>
<path d="M37.3 473.2L69.2 470.4L101.0 469.8L132.9 471.5L164.8 474.9L196.7 479.1L228.6 483.8L260.5 488.3L292.3 491.4L324.2 495.9L356.1 498.7L388.0 498.4L419.9 494.7L451.8 489.6L483.7 486.1L515.5 486.1L547.4 482.9L579.3 481.2L611.2 477.7L643.1 472.6L675.0 469.7L706.9 463.1L738.7 456.9L770.6 446.0L802.5 437.3L834.4 423.3L866.3 414.4L898.2 411.2L930.0 419.3L961.9 403.6L993.8 384.4" fill="none" stroke="#ff0606" stroke-width="3.1" stroke-linejoin="round"/>
</g>
</g>
<line x1="76.4" y1="293.5" x2="76.4" y2="513.2" stroke="#e0e0e0" stroke-opacity=".8" stroke-width=".75" stroke-dasharray="2.3 1.7"/>
<g stroke="#dadada" stroke-width="1.15" fill="none">
<path d="M52.5 293.5H57.0V513.2H52.5"/>
<path d="M57.0 517.0V513.2H993.9" stroke-width="1.5"/>
<path d="M52.5 493.90H57.0"/>
<path d="M52.5 471.50H57.0"/>
<path d="M52.5 449.10H57.0"/>
<path d="M52.5 426.70H57.0"/>
<path d="M52.5 404.30H57.0"/>
<path d="M52.5 381.90H57.0"/>
<path d="M52.5 359.50H57.0"/>
<path d="M52.5 337.10H57.0"/>
<path d="M52.5 314.70H57.0"/>
<path d="M69.15 513.2v3.8"/>
<path d="M132.92 513.2v3.8"/>
<path d="M196.69 513.2v3.8"/>
<path d="M260.46 513.2v3.8"/>
<path d="M324.23 513.2v3.8"/>
<path d="M388.00 513.2v3.8"/>
<path d="M451.77 513.2v3.8"/>
<path d="M515.54 513.2v3.8"/>
<path d="M579.31 513.2v3.8"/>
<path d="M643.08 513.2v3.8"/>
<path d="M706.85 513.2v3.8"/>
<path d="M770.62 513.2v3.8"/>
<path d="M834.39 513.2v3.8"/>
<path d="M898.16 513.2v3.8"/>
<path d="M961.93 513.2v3.8"/>
</g>
<text class="tk" transform="translate(50.90 496.20) scale(0.920 1)" text-anchor="end" style="font-size:7.55px">-12</text>
<text class="tk" transform="translate(50.90 473.80) scale(0.920 1)" text-anchor="end" style="font-size:7.55px">-10</text>
<text class="tk" transform="translate(50.90 451.40) scale(0.920 1)" text-anchor="end" style="font-size:7.55px">-8</text>
<text class="tk" transform="translate(50.90 429.00) scale(0.920 1)" text-anchor="end" style="font-size:7.55px">-6</text>
<text class="tk" transform="translate(50.90 406.60) scale(0.920 1)" text-anchor="end" style="font-size:7.55px">-4</text>
<text class="tk" transform="translate(50.90 384.20) scale(0.920 1)" text-anchor="end" style="font-size:7.55px">-2</text>
<text class="tk" transform="translate(50.90 361.80) scale(0.920 1)" text-anchor="end" style="font-size:7.55px">0</text>
<text class="tk" transform="translate(50.90 339.40) scale(0.920 1)" text-anchor="end" style="font-size:7.55px">2</text>
<text class="tk" transform="translate(50.90 317.00) scale(0.920 1)" text-anchor="end" style="font-size:7.55px">4</text>
<text class="tk" transform="translate(69.25 523.90) scale(0.920 1)" text-anchor="middle" style="font-size:7.55px">02 PM</text>
<text class="tk" transform="translate(133.02 523.90) scale(0.920 1)" text-anchor="middle" style="font-size:7.55px">04 PM</text>
<text class="tk" transform="translate(196.79 523.90) scale(0.920 1)" text-anchor="middle" style="font-size:7.55px">06 PM</text>
<text class="tk" transform="translate(260.56 523.90) scale(0.920 1)" text-anchor="middle" style="font-size:7.55px">08 PM</text>
<text class="tk" transform="translate(324.33 523.90) scale(0.920 1)" text-anchor="middle" style="font-size:7.55px">10 PM</text>
<text class="tk" transform="translate(388.10 523.90) scale(0.920 1)" text-anchor="middle" style="font-size:7.55px">Sun 25</text>
<text class="tk" transform="translate(451.87 523.90) scale(0.920 1)" text-anchor="middle" style="font-size:7.55px">02 AM</text>
<text class="tk" transform="translate(515.64 523.90) scale(0.920 1)" text-anchor="middle" style="font-size:7.55px">04 AM</text>
<text class="tk" transform="translate(579.41 523.90) scale(0.920 1)" text-anchor="middle" style="font-size:7.55px">06 AM</text>
<text class="tk" transform="translate(643.18 523.90) scale(0.920 1)" text-anchor="middle" style="font-size:7.55px">08 AM</text>
<text class="tk" transform="translate(706.95 523.90) scale(0.920 1)" text-anchor="middle" style="font-size:7.55px">10 AM</text>
<text class="tk" transform="translate(770.72 523.90) scale(0.920 1)" text-anchor="middle" style="font-size:7.55px">12 PM</text>
<text class="tk" transform="translate(834.49 523.90) scale(0.920 1)" text-anchor="middle" style="font-size:7.55px">02 PM</text>
<text class="tk" transform="translate(898.26 523.90) scale(0.920 1)" text-anchor="middle" style="font-size:7.55px">04 PM</text>
<text class="tk" transform="translate(962.03 523.90) scale(0.920 1)" text-anchor="middle" style="font-size:7.55px">06 PM</text>
<text class="tk" transform="translate(8.2 403) rotate(-90)" text-anchor="middle" style="font-size:9.5px;font-weight:bold;letter-spacing:.12px">925 mb Temp (°C)</text>
<circle cx="76.4" cy="470.4" r="2.75" fill="none" stroke="#2b7fd4" stroke-width="1.25"/>
<text transform="translate(82.4 474) scale(.925 1)" style="font-size:12.6px;paint-order:stroke;stroke:#000;stroke-width:2px;stroke-linejoin:round">-10°C</text>
<path d="M429.5 535.2h10.5" stroke="#ff0d0d" stroke-width="2"/>
<text class="lg" x="442.6" y="539">Grand Ensemble</text>
<path d="M542.5 535.2h10.2" stroke="#8c8c8c" stroke-width="2"/>
<text class="lg" x="555.4" y="539">Members</text>
</svg></body></html>
